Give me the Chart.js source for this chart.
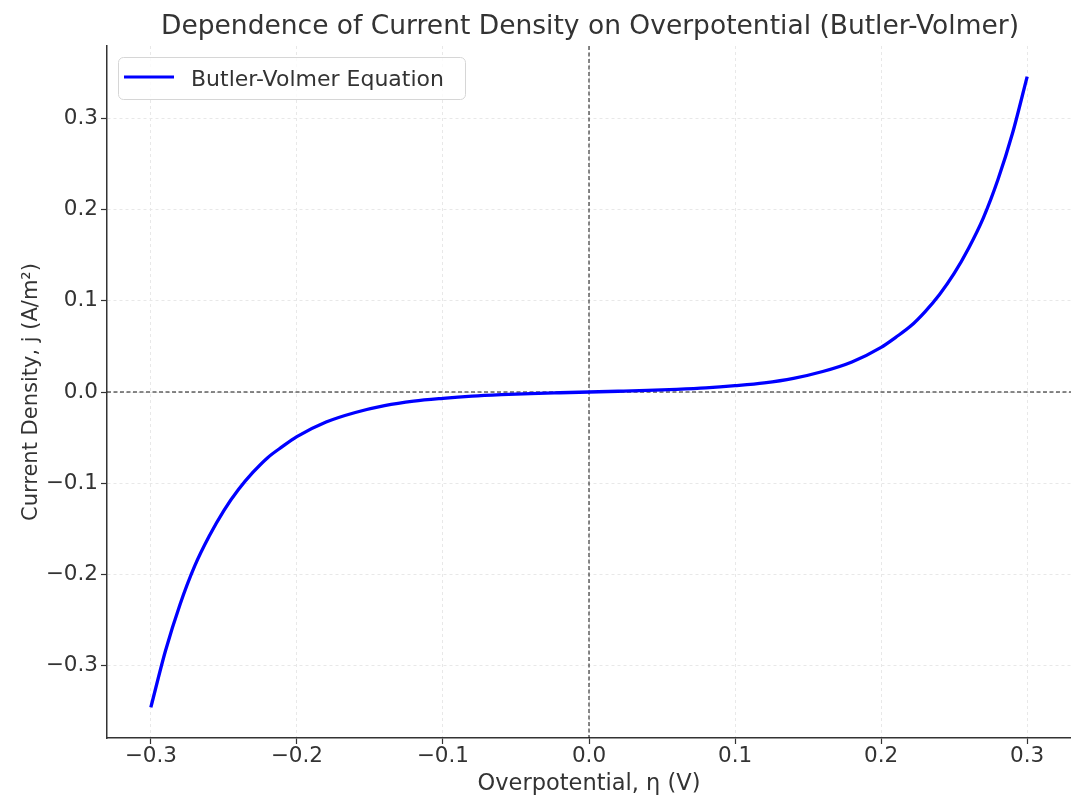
<!DOCTYPE html>
<html>
<head>
<meta charset="utf-8">
<script src="https://cdn.jsdelivr.net/npm/chart.js@4/dist/chart.umd.min.js"></script>
<style>
  html, body { margin: 0; padding: 0; background: #fff; }
  #wrap { width: 1071px; height: 798px; position: relative; }
</style>
</head>
<body>
<div id="wrap"><canvas id="chart"></canvas></div>
<script>
// Butler-Volmer curve, values.

const ETA = [
  -0.30, -0.29, -0.28, -0.27, -0.26, -0.25, -0.24, -0.23, -0.22, -0.21, -0.20,
  -0.18, -0.16, -0.14, -0.12, -0.10, -0.08, -0.06, -0.04, -0.02, 0.00,
  0.02, 0.04, 0.06, 0.08, 0.10, 0.12, 0.14, 0.16, 0.18,
  0.20, 0.21, 0.22, 0.23, 0.24, 0.25, 0.26, 0.27, 0.28, 0.29, 0.30,
];
const CURRENT = [
  -0.346, -0.284, -0.233, -0.191, -0.158, -0.130, -0.107, -0.088, -0.072, -0.060, -0.049,
  -0.033, -0.0225, -0.015, -0.010, -0.0069, -0.0045, -0.0029, -0.0017, -0.0008, 0.0,
  0.0008, 0.0017, 0.0029, 0.0045, 0.0069, 0.010, 0.015, 0.0225, 0.033,
  0.049, 0.060, 0.072, 0.088, 0.107, 0.130, 0.158, 0.191, 0.233, 0.284, 0.346,
];
const X_TICKS = [-0.3, -0.2, -0.1, 0.0, 0.1, 0.2, 0.3];
const Y_TICKS = [-0.3, -0.2, -0.1, 0.0, 0.1, 0.2, 0.3];
const X_RANGE = [-0.33, 0.33];
const Y_RANGE = [-0.3795, 0.3795];
const TITLE = "Dependence of Current Density on Overpotential (Butler-Volmer)";

const FONT = "'DejaVu Sans', sans-serif";
const TEXT = "#333333";

function fmtTick(v) {
  const s = Math.abs(v).toFixed(1);
  return v < -1e-9 ? "\u2212" + s : s;
}

// title centred over the plot area (not the canvas), like matplotlib
const plotTitle = {
  id: "plotTitle",
  afterDraw(chart) {
    const { ctx, chartArea } = chart;
    ctx.save();
    ctx.fillStyle = TEXT;
    ctx.font = "26.5px " + FONT;
    ctx.textAlign = "center";
    ctx.textBaseline = "alphabetic";
    ctx.fillText(TITLE, (chartArea.left + chartArea.right) / 2 + 1, 34);
    ctx.restore();
  },
};

// dashed zero lines across the whole plot area
const zeroLines = {
  id: "zeroLines",
  beforeDatasetsDraw(chart) {
    const { ctx, chartArea, scales } = chart;
    const x0 = scales.x.getPixelForValue(0);
    const y0 = scales.y.getPixelForValue(0);
    ctx.save();
    ctx.strokeStyle = "#111";
    ctx.lineWidth = 1;
    ctx.setLineDash([4, 2.5]);
    ctx.beginPath();
    ctx.moveTo(x0, chartArea.top);
    ctx.lineTo(x0, chartArea.bottom);
    ctx.moveTo(chartArea.left, y0);
    ctx.lineTo(chartArea.right, y0);
    ctx.stroke();
    ctx.restore();
  },
};

// legend box in the upper-left of the plot, like matplotlib's
const innerLegend = {
  id: "innerLegend",
  afterDraw(chart) {
    const { ctx, chartArea } = chart;
    const ds = chart.data.datasets[0];
    const x = chartArea.left + 11, y = chartArea.top + 11;
    const w = 347, h = 42, r = 5;
    ctx.save();
    ctx.fillStyle = "rgba(255,255,255,0.8)";
    ctx.strokeStyle = "#d6d6d6";
    ctx.lineWidth = 1;
    ctx.beginPath();
    ctx.roundRect(x + 0.5, y + 0.5, w, h, r);
    ctx.fill();
    ctx.stroke();
    ctx.strokeStyle = ds.borderColor;
    ctx.lineWidth = 3;
    ctx.beginPath();
    ctx.moveTo(x + 6, y + h / 2 - 1);
    ctx.lineTo(x + 56, y + h / 2 - 1);
    ctx.stroke();
    ctx.fillStyle = TEXT;
    ctx.font = "22px " + FONT;
    ctx.textBaseline = "alphabetic";
    ctx.fillText(ds.label, x + 73, y + 29);
    ctx.restore();
  },
};

new Chart(document.getElementById("chart").getContext("2d"), {
  type: "line",
  data: {
    datasets: [{
      label: "Butler-Volmer Equation",
      data: ETA.map((e, i) => ({ x: e, y: CURRENT[i] })),
      borderColor: "#0000ff",
      borderWidth: 3.3,
      pointRadius: 0,
      cubicInterpolationMode: "monotone",
      fill: false,
    }],
  },
  options: {
    responsive: true,
    maintainAspectRatio: false,
    animation: false,
    layout: { padding: { left: 0, right: 0, top: 46, bottom: 0 } },
    plugins: {
      legend: { display: false },
      tooltip: { enabled: false },
      title: { display: false },
    },
    scales: {
      x: {
        type: "linear",
        min: X_RANGE[0],
        max: X_RANGE[1],
        afterBuildTicks: (axis) => { axis.ticks = X_TICKS.map((v) => ({ value: v })); },
        afterFit: (axis) => { axis.height = 60; },
        grid: { color: "#e8e8e8", lineWidth: 1, tickColor: "#333", tickLength: 6, tickWidth: 1.2 },
        border: { color: "#333", width: 1.5, dash: [3, 3] },
        ticks: { color: TEXT, font: { family: FONT, size: 21.5 }, padding: 0, callback: (v) => fmtTick(v), maxRotation: 0 },
        title: { display: true, text: "Overpotential, \u03b7 (V)", color: TEXT, font: { family: FONT, size: 22.5 }, padding: { top: 0, bottom: 0 } },
      },
      y: {
        type: "linear",
        min: Y_RANGE[0],
        max: Y_RANGE[1],
        afterBuildTicks: (axis) => { axis.ticks = Y_TICKS.map((v) => ({ value: v })); },
        afterFit: (axis) => { axis.width = 107; },
        grid: { color: "#e8e8e8", lineWidth: 1, tickColor: "#333", tickLength: 6, tickWidth: 1.2 },
        border: { color: "#333", width: 1.5, dash: [3, 3] },
        ticks: { color: TEXT, font: { family: FONT, size: 21.5 }, padding: 3, callback: (v) => fmtTick(v) },
        title: { display: true, text: "Current Density, j (A/m\u00b2)", color: TEXT, font: { family: FONT, size: 21 }, padding: { top: 19, bottom: 0 } },
      },
    },
  },
  plugins: [zeroLines, innerLegend, plotTitle],
});
</script>
</body>
</html>
